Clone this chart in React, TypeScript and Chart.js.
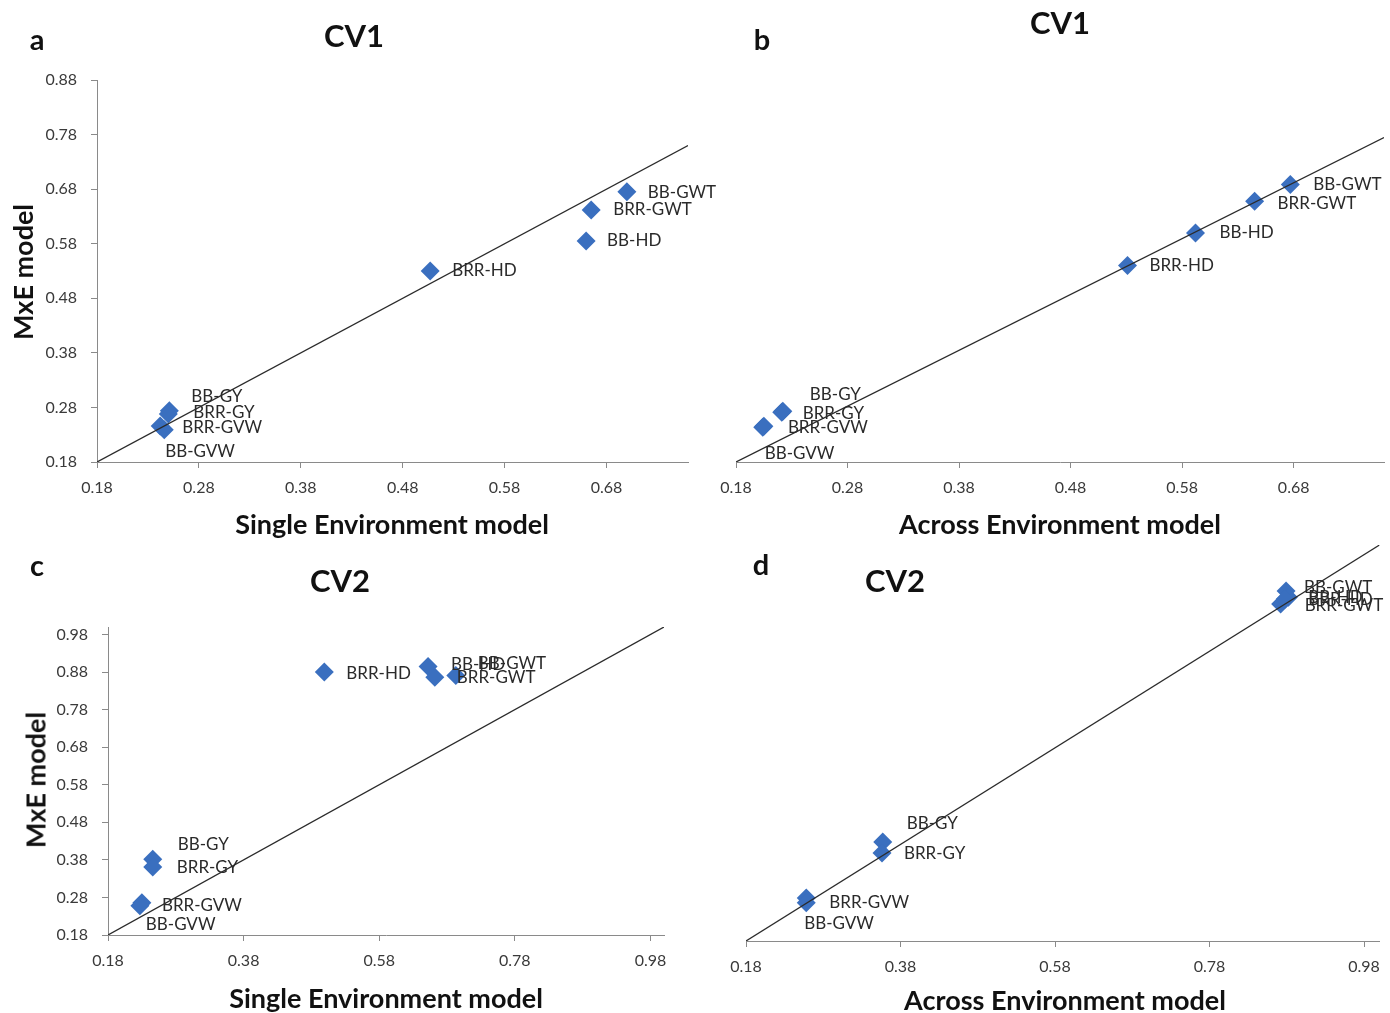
import React, { useEffect, useRef } from 'react';
import { Chart, registerables } from 'chart.js';

Chart.register(...registerables);

// ---------- data ----------
const traits = ['BB-GWT', 'BRR-GWT', 'BB-HD', 'BRR-HD', 'BB-GY', 'BRR-GY', 'BRR-GVW', 'BB-GVW'];

// (a) CV1: Single Environment model (x) vs MxE model (y)
const cv1SingleX = [0.700, 0.665, 0.660, 0.507, 0.251, 0.250, 0.242, 0.246];
const cv1SingleMxE = [0.675, 0.642, 0.585, 0.530, 0.274, 0.268, 0.246, 0.239];

// (b) CV1: Across Environment model (x) vs MxE model (y)
const cv1AcrossX = [0.677, 0.645, 0.592, 0.531, 0.222, 0.221, 0.205, 0.204];
const cv1AcrossMxE = [0.677, 0.647, 0.590, 0.532, 0.271, 0.269, 0.244, 0.242];

// (c) CV2: Single Environment model (x) vs MxE model (y)
const cv2SingleX = [0.693, 0.662, 0.652, 0.499, 0.246, 0.246, 0.230, 0.227];
const cv2SingleMxE = [0.871, 0.866, 0.895, 0.880, 0.382, 0.361, 0.266, 0.258];

// (d) CV2: Across Environment model (x) vs MxE model (y)
const cv2AcrossX = [0.879, 0.872, 0.882, 0.878, 0.357, 0.356, 0.258, 0.258];
const cv2AcrossMxE = [0.905, 0.878, 0.892, 0.888, 0.385, 0.362, 0.269, 0.259];

// tick labels
const cv1Ticks = [0.18, 0.28, 0.38, 0.48, 0.58, 0.68, 0.78, 0.88];
const cv1XTicks = [0.18, 0.28, 0.38, 0.48, 0.58, 0.68];
const cv2YTicks = [0.18, 0.28, 0.38, 0.48, 0.58, 0.68, 0.78, 0.88, 0.98];
const cv2XTicks = [0.18, 0.38, 0.58, 0.78, 0.98];

// ---------- styles ----------
const FONT = 'Lato, "Open Sans", sans-serif';
const MARKER = '#3a6fbf';
const AXIS = '#8a8a8a';
const TICK_TEXT = '#3a3a3a';

// label offsets (px) from each marker, in traits order
const offA = [[21, 1], [22, 0], [21, 0], [22, 0], [22, -14], [25, -1], [22, 2], [1, 22]];
const offB = [[23, 0], [23, 2], [24, 0], [22, 0], [27, -17], [21, 1], [24, 1], [2, 26]];
const offC = [[22, -12], [22, 0], [23, -2], [22, 1], [25, -15], [24, 1], [20, 3], [6, 19]];
const offD = [[18, -3], [24, 2], [20, 0], [23, 0], [24, -18], [22, 0], [23, 4], [-2, 21]];

type Panel = {
  left: number; top: number; w: number; h: number;
  pad: { left: number; top: number; right: number; bottom: number };
  yWidth: number; xHeight: number;
  xMin: number; xMax: number; yMin: number; yMax: number;
  xTicks: number[]; yTicks: number[] | null;
  xs: number[]; ys: number[]; offs: number[][];
};

const panels: Panel[] = [
  {
    left: 0, top: 0, w: 730, h: 540,
    pad: { left: 37, top: 80, right: 42, bottom: 38 }, yWidth: 60, xHeight: 40,
    xMin: 0.18, xMax: 0.76, yMin: 0.18, yMax: 0.88,
    xTicks: cv1XTicks, yTicks: cv1Ticks, xs: cv1SingleX, ys: cv1SingleMxE, offs: offA,
  },
  {
    left: 690, top: 0, w: 700, h: 540,
    pad: { left: 46, top: 71, right: 6, bottom: 38 }, yWidth: 0, xHeight: 40,
    xMin: 0.18, xMax: 0.761, yMin: 0.18, yMax: 0.88,
    xTicks: cv1XTicks, yTicks: null, xs: cv1AcrossX, ys: cv1AcrossMxE, offs: offB,
  },
  {
    left: 0, top: 540, w: 690, h: 473,
    pad: { left: 48, top: 87, right: 26, bottom: 38 }, yWidth: 60, xHeight: 40,
    xMin: 0.18, xMax: 1.0, yMin: 0.18, yMax: 1.0,
    xTicks: cv2XTicks, yTicks: cv2YTicks, xs: cv2SingleX, ys: cv2SingleMxE, offs: offC,
  },
  {
    left: 690, top: 540, w: 700, h: 473,
    pad: { left: 56, top: 5, right: 5, bottom: 32 }, yWidth: 0, xHeight: 40,
    xMin: 0.18, xMax: 1.0, yMin: 0.18, yMax: 1.0,
    xTicks: cv2XTicks, yTicks: null, xs: cv2AcrossX, ys: cv2AcrossMxE, offs: offD,
  },
];

const labelPlugin = {
  id: 'pointLabels',
  afterDatasetsDraw(chart: any) {
    const meta = chart.getDatasetMeta(1);
    const offs: number[][] = chart.options.plugins.pointLabels.offsets;
    const ctx = chart.ctx;
    ctx.save();
    ctx.font = `17px ${FONT}`;
    ctx.fillStyle = '#2a2a2a';
    ctx.textAlign = 'left';
    ctx.textBaseline = 'middle';
    meta.data.forEach((pt: any, i: number) => {
      const [dx, dy] = offs[i];
      ctx.fillText(traits[i], pt.x + dx, pt.y + dy);
    });
    ctx.restore();
  },
};

function PanelChart({ p }: { p: Panel }) {
  const ref = useRef<HTMLCanvasElement>(null);
  useEffect(() => {
    if (!ref.current) return;
    const tickFont = { family: FONT, size: 16 };
    const chart = new Chart(ref.current, {
      type: 'scatter',
      data: {
        datasets: [
          {
            type: 'line',
            data: [{ x: p.xMin, y: p.yMin }, { x: p.xMax, y: p.xMax }],
            borderColor: '#2b2b2b',
            borderWidth: 1.3,
            pointRadius: 0,
            fill: false,
            order: 0,
          } as any,
          {
            data: traits.map((_, i) => ({ x: p.xs[i], y: p.ys[i] })),
            pointStyle: 'rectRot',
            pointRadius: 9.5,
            pointBackgroundColor: MARKER,
            pointBorderColor: MARKER,
            pointBorderWidth: 0,
            order: 1,
          },
        ],
      },
      options: {
        animation: false,
        responsive: false,
        layout: { padding: p.pad, autoPadding: false },
        plugins: {
          legend: { display: false },
          tooltip: { enabled: false },
          pointLabels: { offsets: p.offs },
        } as any,
        scales: {
          x: {
            type: 'linear',
            min: p.xMin,
            max: p.xMax,
            afterBuildTicks: (s: any) => { s.ticks = p.xTicks.map((v) => ({ value: v })); },
            afterFit: (s: any) => { s.height = p.xHeight; },
            ticks: {
              callback: (v: any) => Number(v).toFixed(2),
              font: tickFont, color: TICK_TEXT, padding: 10,
              autoSkip: false, maxRotation: 0,
            },
            grid: { drawOnChartArea: false, drawTicks: true, tickLength: 6, color: AXIS },
            border: { display: true, color: AXIS, width: 1 },
          },
          y: {
            type: 'linear',
            display: !!p.yTicks,
            min: p.yMin,
            max: p.yMax,
            afterBuildTicks: (s: any) => { if (p.yTicks) s.ticks = p.yTicks.map((v) => ({ value: v })); },
            afterFit: (s: any) => { s.width = p.yWidth; },
            ticks: {
              callback: (v: any) => Number(v).toFixed(2),
              font: tickFont, color: TICK_TEXT, padding: 14,
              autoSkip: false,
            },
            grid: { drawOnChartArea: false, drawTicks: true, tickLength: 6, color: AXIS },
            border: { display: true, color: AXIS, width: 1 },
          },
        },
      },
      plugins: [labelPlugin],
    });
    return () => chart.destroy();
  }, [p]);
  return (
    <canvas
      ref={ref}
      width={p.w}
      height={p.h}
      style={{ position: 'absolute', left: p.left, top: p.top, width: p.w, height: p.h }}
    />
  );
}

function Txt({ x, y, text, size, rotate }: { x: number; y: number; text: string; size: number; rotate?: boolean }) {
  return (
    <div
      style={{
        position: 'absolute', left: x, top: y, whiteSpace: 'nowrap',
        transform: `translate(-50%, -50%)${rotate ? ' rotate(-90deg)' : ''}`,
        fontFamily: FONT, fontWeight: 700, fontSize: size, color: '#111', lineHeight: 1,
      }}
    >
      {text}
    </div>
  );
}

export default function App() {
  return (
    <div style={{ position: 'absolute', left: 0, top: 0, width: 1390, height: 1013, background: '#fff', overflow: 'hidden' }}>
      {panels.map((p, i) => <PanelChart key={i} p={p} />)}
      <Txt x={37} y={38} text="a" size={29} />
      <Txt x={762} y={38} text="b" size={29} />
      <Txt x={37} y={564} text="c" size={29} />
      <Txt x={761} y={563} text="d" size={29} />
      <Txt x={354} y={35} text="CV1" size={31} />
      <Txt x={1060} y={22} text="CV1" size={31} />
      <Txt x={340} y={580} text="CV2" size={31} />
      <Txt x={895} y={580} text="CV2" size={31} />
      <Txt x={392} y={523} text="Single Environment model" size={27} />
      <Txt x={1060} y={523} text="Across Environment model" size={27} />
      <Txt x={386} y={997} text="Single Environment model" size={27} />
      <Txt x={1065} y={999} text="Across Environment model" size={27} />
      <Txt x={22} y={272} text="MxE model" size={27} rotate />
      <Txt x={35} y={780} text="MxE model" size={27} rotate />
    </div>
  );
}
